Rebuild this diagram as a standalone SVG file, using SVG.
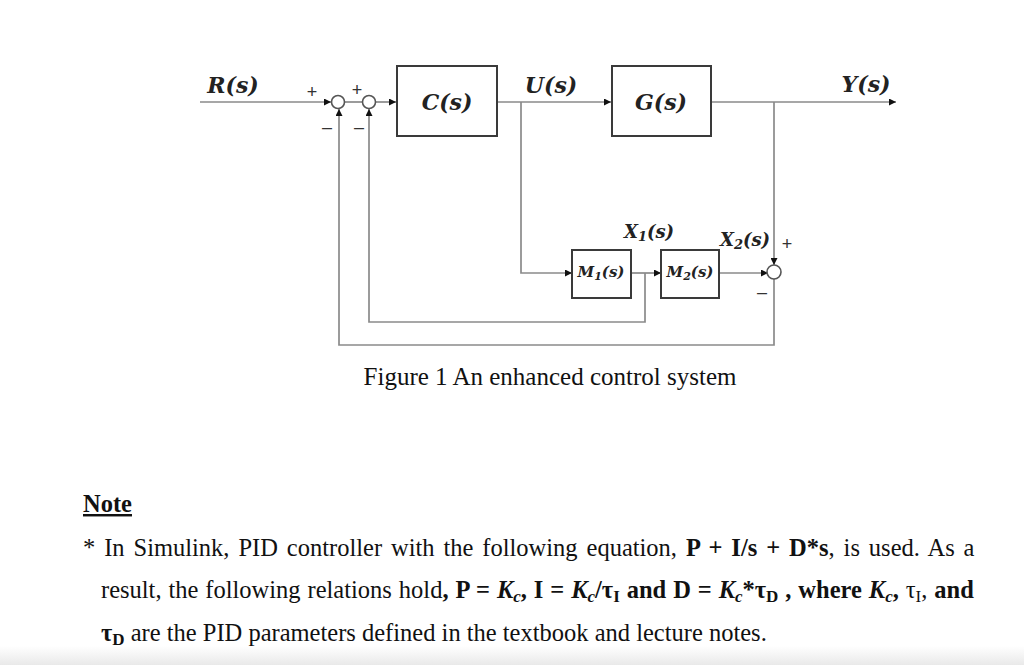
<svg xmlns="http://www.w3.org/2000/svg" width="1024" height="665" viewBox="0 0 1024 665">
<defs>
<marker id="arr" viewBox="0 0 10 10" refX="10" refY="5" markerWidth="7" markerHeight="7" markerUnits="userSpaceOnUse" orient="auto">
<path d="M0,0 L10,5 L0,10 z" fill="#111"/>
</marker>
<linearGradient id="shade" x1="0" y1="0" x2="0" y2="1">
<stop offset="0" stop-color="#ffffff"/>
<stop offset="1" stop-color="#e9e9e9"/>
</linearGradient>
<style>
.ln{fill:none;stroke:#8a8a8a;stroke-width:1.7}
.box{fill:#fff;stroke:#3a3a3a;stroke-width:2}
.sum{fill:#fff;stroke:#555;stroke-width:1.6}
.m{font-family:"DejaVu Serif","Liberation Serif",serif;font-style:italic;font-weight:bold;fill:#222}
.sg{font-family:"Liberation Sans",Arial,sans-serif;fill:#333}
.t{font-family:"Liberation Serif","Times New Roman",serif;font-size:24.5px;fill:#111}
.b{font-weight:bold}
.bi{font-weight:bold;font-style:italic}
</style>
</defs>
<rect width="1024" height="665" fill="#fff"/>
<rect x="0" y="646" width="1024" height="19" fill="url(#shade)"/>

<g id="connectors">
<path class="ln" d="M200,102 H331" marker-end="url(#arr)"/>
<path class="ln" d="M345,102 H362"/>
<path class="ln" d="M376,102 H396" marker-end="url(#arr)"/>
<path class="ln" d="M497,102 H611" marker-end="url(#arr)"/>
<path class="ln" d="M711,102 H896" marker-end="url(#arr)"/>
<path class="ln" d="M521,102 V273 H572" marker-end="url(#arr)"/>
<path class="ln" d="M631,273 H661" marker-end="url(#arr)"/>
<path class="ln" d="M645,273 V322 H369 V109" marker-end="url(#arr)"/>
<path class="ln" d="M719,273 H768" marker-end="url(#arr)"/>
<path class="ln" d="M774,102 V265" marker-end="url(#arr)"/>
<path class="ln" d="M774,279 V345 H339 V109" marker-end="url(#arr)"/>
</g>

<g id="sum1">
<circle class="sum" cx="338" cy="102" r="6.5"/>
<text class="sg" x="312" y="98" font-size="18" text-anchor="middle">+</text>
<text class="sg" x="327" y="133" font-size="18" text-anchor="middle">–</text>
</g>
<g id="sum2">
<circle class="sum" cx="369" cy="102" r="6.5"/>
<text class="sg" x="357" y="96" font-size="18" text-anchor="middle">+</text>
<text class="sg" x="359" y="133" font-size="18" text-anchor="middle">–</text>
</g>
<g id="C">
<rect class="box" x="397" y="66" width="100" height="70"/>
<text class="m" x="447" y="110" font-size="22" text-anchor="middle">C(s)</text>
</g>
<g id="G">
<rect class="box" x="612" y="66" width="99" height="70"/>
<text class="m" x="661" y="110" font-size="22" text-anchor="middle">G(s)</text>
</g>
<g id="M1">
<rect class="box" x="572" y="250" width="59" height="48"/>
<text class="m" x="601" y="277" font-size="15" text-anchor="middle">M<tspan font-size="11" dy="3">1</tspan><tspan dy="-3">(s)</tspan></text>
</g>
<g id="M2">
<rect class="box" x="661" y="250" width="58" height="48"/>
<text class="m" x="690" y="277" font-size="15" text-anchor="middle">M<tspan font-size="11" dy="3">2</tspan><tspan dy="-3">(s)</tspan></text>
</g>
<g id="sum3">
<circle class="sum" cx="774" cy="272" r="7"/>
<text class="sg" x="787" y="250" font-size="18" text-anchor="middle">+</text>
<text class="sg" x="762" y="298" font-size="18" text-anchor="middle">–</text>
</g>

<g id="labels">
<text class="m" x="233" y="93" font-size="22" text-anchor="middle">R(s)</text>
<text class="m" x="551" y="93" font-size="22" text-anchor="middle">U(s)</text>
<text class="m" x="866" y="92" font-size="22" text-anchor="middle">Y(s)</text>
<text class="m" x="649" y="238" font-size="18" text-anchor="middle">X<tspan font-size="13" dy="3">1</tspan><tspan dy="-3">(s)</tspan></text>
<text class="m" x="745" y="246" font-size="18" text-anchor="middle">X<tspan font-size="13" dy="3">2</tspan><tspan dy="-3">(s)</tspan></text>
</g>

<g id="caption">
<text class="t" x="550" y="385" text-anchor="middle" style="font-size:25px">Figure 1 An enhanced control system</text>
</g>

<g id="note">
<text class="t b" x="83" y="512" text-decoration="underline">Note</text>
<text class="t" x="83" y="556" word-spacing="2.8">* In Simulink, PID controller with the following equation, <tspan class="b">P + I/s + D*s</tspan>, is used. As a</text>
<text class="t" x="101" y="598" word-spacing="0.8">result, the following relations hold<tspan class="b">, P = </tspan><tspan class="bi">K<tspan font-size="17" dy="4">c</tspan></tspan><tspan class="b" dy="-4">, I = </tspan><tspan class="bi">K<tspan font-size="17" dy="4">c</tspan></tspan><tspan class="b" dy="-4">/τ<tspan font-size="17" dy="4">I</tspan></tspan><tspan class="b" dy="-4"> and D = </tspan><tspan class="bi">K<tspan font-size="17" dy="4">c</tspan></tspan><tspan class="b" dy="-4">*τ<tspan font-size="17" dy="4">D</tspan></tspan><tspan class="b" dy="-4"> , where </tspan><tspan class="bi">K<tspan font-size="17" dy="4">c</tspan></tspan><tspan class="b" dy="-4">,</tspan><tspan> τ<tspan font-size="17" dy="4">I</tspan></tspan><tspan dy="-4">, </tspan><tspan class="b">and</tspan></text>
<text class="t" x="101" y="641"><tspan class="b">τ<tspan font-size="17" dy="4">D</tspan></tspan><tspan dy="-4"> are the PID parameters defined in the textbook and lecture notes.</tspan></text>
</g>
</svg>
